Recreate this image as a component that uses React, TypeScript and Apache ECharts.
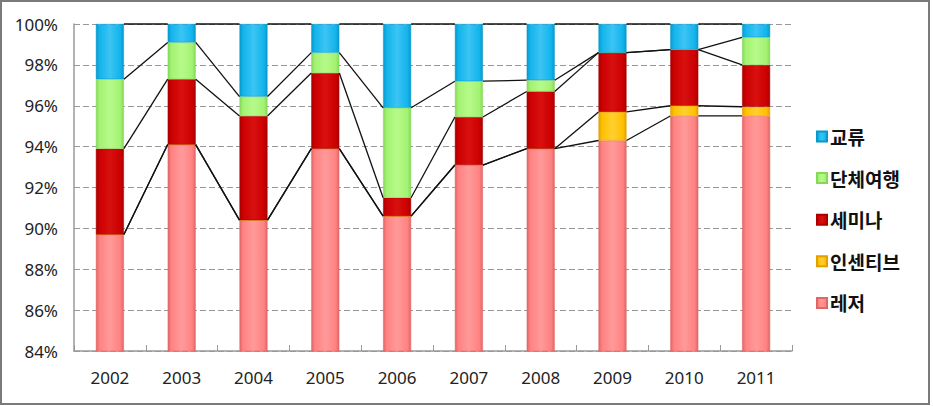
import React, { useEffect, useRef } from "react";
import * as echarts from "echarts";

const years = ["2002", "2003", "2004", "2005", "2006", "2007", "2008", "2009", "2010", "2011"];
const leisure = [89.7, 94.1, 90.4, 93.9, 90.6, 93.1, 93.9, 94.3, 95.5, 95.5];
const incentive = [0, 0, 0, 0, 0, 0, 0, 1.4, 0.5, 0.45];
const seminar = [4.2, 3.2, 5.1, 3.7, 0.9, 2.35, 2.8, 2.9, 2.75, 2.05];
const groupTour = [3.4, 1.8, 0.95, 1.0, 4.4, 1.75, 0.55, 0, 0, 1.35];
const exchange = [2.7, 0.9, 3.55, 1.4, 4.1, 2.8, 2.75, 1.4, 1.25, 0.65];
const yTicks = [84, 86, 88, 90, 92, 94, 96, 98, 100];

const seriesDefs = [
  { name: "레저", data: leisure, base: "#FF8282", dark: "#E06666", light: "#FF9A9A" },
  { name: "인센티브", data: incentive, base: "#FFC000", dark: "#E0A000", light: "#FFD030" },
  { name: "세미나", data: seminar, base: "#CC0000", dark: "#A80000", light: "#D81010" },
  { name: "단체여행", data: groupTour, base: "#A3F272", dark: "#86D85A", light: "#B6FA8A" },
  { name: "교류", data: exchange, base: "#12B4EC", dark: "#0998CC", light: "#3CC4F4" },
];

const BAR_FRAC = 0.39;

export default function App() {
  const ref = useRef<HTMLDivElement>(null);
  useEffect(() => {
    if (!ref.current) return;
    const chart = echarts.init(ref.current, undefined, { renderer: "svg" });

    const cums: number[][] = [];
    const running = years.map(() => 0);
    seriesDefs.forEach((s) => {
      s.data.forEach((v, i) => (running[i] += v));
      cums.push(running.slice());
    });

    const barSeries = seriesDefs.map((s) => ({
      name: s.name,
      type: "bar",
      stack: "total",
      barWidth: (BAR_FRAC * 100).toFixed(0) + "%",
      data: s.data,
      itemStyle: {
        color: new echarts.graphic.LinearGradient(0, 0, 1, 0, [
          { offset: 0, color: s.dark },
          { offset: 0.12, color: s.base },
          { offset: 0.5, color: s.light },
          { offset: 0.88, color: s.base },
          { offset: 1, color: s.dark },
        ]),
        borderColor: s.dark,
        borderWidth: 0.5,
      },
      z: 2,
    }));

    const lineSeries = {
      type: "custom",
      name: "lines",
      silent: true,
      z: 3,
      data: years.slice(0, -1).map((_, i) => [i]),
      encode: { x: 0 },
      renderItem: (params: any, api: any) => {
        const i = api.value(0) as number;
        const cw = api.size([1, 0])[0];
        const half = (cw * BAR_FRAC) / 2;
        const children = cums.map((c) => {
          const p1 = api.coord([i, Math.min(c[i], 100)]);
          const p2 = api.coord([i + 1, Math.min(c[i + 1], 100)]);
          return {
            type: "line",
            shape: { x1: p1[0] + half, y1: p1[1], x2: p2[0] - half, y2: p2[1] },
            style: { stroke: "#111", lineWidth: 1.3 },
          };
        });
        return { type: "group", children };
      },
    };

    chart.setOption({
      animation: false,
      backgroundColor: "#fff",
      grid: { left: 74, right: 141, top: 24, bottom: 55 },
      legend: {
        orient: "vertical",
        left: 816,
        top: 127,
        padding: 0,
        itemWidth: 10,
        itemHeight: 10,
        itemGap: 22.6,
        icon: "rect",
        data: ["교류", "단체여행", "세미나", "인센티브", "레저"],
        textStyle: {
          fontFamily: "Noto Sans CJK KR",
          fontWeight: "bold",
          fontSize: 19,
          lineHeight: 19,
          color: "#111",
          padding: [0, 0, 0, -2],
        },
      },
      xAxis: {
        type: "category",
        data: years,
        axisLine: { lineStyle: { color: "#999", width: 1.5 } },
        axisTick: { show: true, inside: true, length: 6, lineStyle: { color: "#999" } },
        axisLabel: { margin: 18, fontFamily: "Noto Sans", fontSize: 17, color: "#222" },
        splitLine: { show: false },
      },
      yAxis: {
        type: "value",
        min: yTicks[0],
        max: yTicks[yTicks.length - 1],
        interval: 2,
        axisLine: { show: true, lineStyle: { color: "#999", width: 1.5 } },
        axisTick: { show: true, inside: true, length: 5, lineStyle: { color: "#999" } },
        axisLabel: { margin: 16, fontFamily: "Noto Sans", fontSize: 17, color: "#222", formatter: "{value}%" },
        splitLine: { show: true, lineStyle: { color: "#999", type: [6, 3], width: 1 } },
      },
      series: [...barSeries, lineSeries],
      graphic: [
        {
          type: "rect",
          shape: { x: 1, y: 1, width: 928, height: 403 },
          style: { fill: "none", stroke: "#7a7a7a", lineWidth: 2 },
          silent: true,
          z: 100,
        },
      ],
    });
    return () => chart.dispose();
  }, []);
  return (
    <div
      ref={ref}
      style={{ position: "fixed", left: 0, top: 0, width: 933, height: 406 }}
    />
  );
}
